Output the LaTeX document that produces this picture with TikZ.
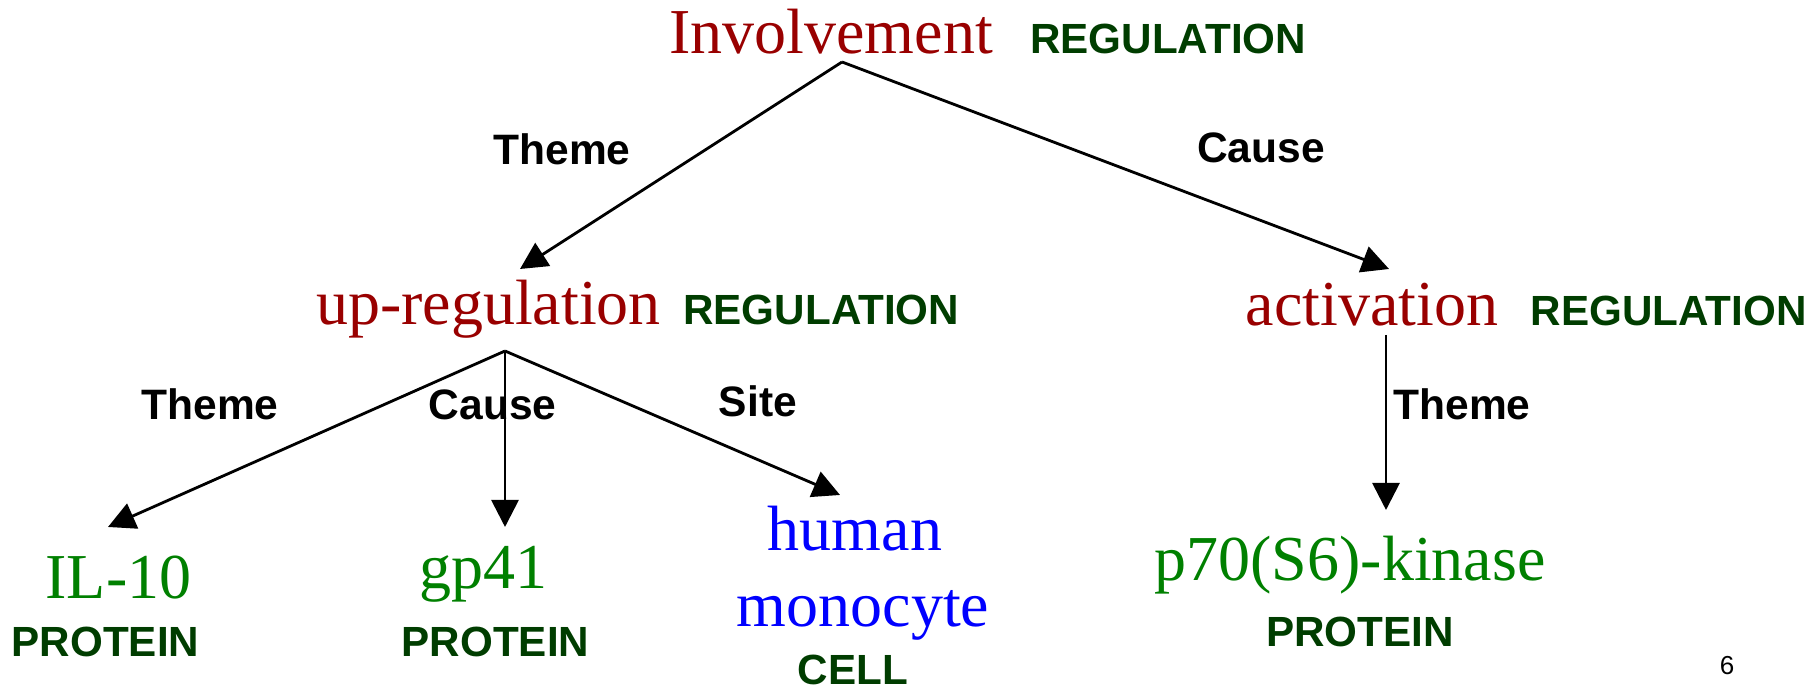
\documentclass[tikz,border=0pt]{standalone}
\definecolor{evtred}{RGB}{153, 0, 0}
\definecolor{protgreen}{RGB}{0, 128, 0}
\definecolor{typegreen}{RGB}{0, 61, 0}
\definecolor{cellblue}{RGB}{0, 0, 255}
\usepackage{fontspec}
\setmainfont{Liberation Serif}
\newfontfamily\labelfont{Liberation Sans}
\usepackage{tikz}
\usetikzlibrary{
    arrows.meta,
    positioning,
    calc
}

\begin{document}
\begin{tikzpicture}[x=0.01cm, y=-0.01cm,
            evt/.style={evtred, inner sep=0pt, anchor=base, font=\fontsize{18.2}{21.8}\selectfont},
            ent/.style={protgreen, inner sep=0pt, anchor=base, font=\fontsize{18.2}{21.8}\selectfont},
            loc/.style={cellblue, inner sep=0pt, anchor=base, font=\fontsize{18.2}{21.8}\selectfont},
            etype/.style={typegreen, inner sep=0pt, anchor=base, font=\labelfont\bfseries\fontsize{12}{14}\selectfont},
            role/.style={black, inner sep=0pt, anchor=base, font=\labelfont\bfseries\fontsize{12.1}{14}\selectfont},
            arg/.style={-{Triangle[length=0.27cm, width=0.27cm]}, line width=0.8pt}]

            \useasboundingbox (0,0) rectangle (1818,689);

            % Events
            \node[evt] (inv) at (831,54) {Involvement};
            \node[etype, base right=0.36cm of inv] (invtype) {REGULATION};
            \node[evt] (upreg) at (488.5,325) {up-regulation};
            \node[etype, base right=0.21cm of upreg] (upregtype) {REGULATION};
            \node[evt] (act) at (1372,326) {activation};
            \node[etype, base right=0.31cm of act] (acttype) {REGULATION};

            % Entities
            \node[ent] (il10) at (118.5,599) {IL-10};
            \node[etype] (il10type) at (105.5,657) {PROTEIN};
            \node[ent] (gp41) at (483.5,589) {gp41};
            \node[etype] (gp41type) at (495.5,657) {PROTEIN};
            \node[loc] (hum) at (855,551) {human};
            \node[loc] (mono) at (863,627) {monocyte};
            \node[etype] (monotype) at (853,685) {CELL};
            \node[ent] (p70) at (1350,581) {p70(S6)-kinase};
            \node[etype] (p70type) at (1360,647) {PROTEIN};

            % Arguments
            \draw[arg] ($(inv.base)+(11,8)$) -- ($(upreg.base)+(31.5,-56)$);
            \draw[arg] ($(inv.base)+(11,8)$) -- ($(act.base)+(17,-57)$);
            \draw[arg] ($(upreg.base)+(16.5,26)$) -- ($(il10.base)+(-10.5,-72)$);
            \draw[arg] ($(upreg.base)+(16.5,26)$) -- ($(gp41.base)+(21.5,-62)$);
            \draw[arg] ($(upreg.base)+(16.5,26)$) -- ($(hum.base)+(-15,-56)$);
            \draw[arg] ($(act.base)+(14,9)$) -- ($(p70.base)+(36,-71)$);

            % Roles
            \node[role] (r1) at (562,165) {Theme};
            \node[role] (r2) at (1261,163) {Cause};
            \node[role] (r3) at (210,420) {Theme};
            \node[role] (r4) at (492.5,420) {Cause};
            \node[role] (r5) at (758,417) {Site};
            \node[role] (r6) at (1462,420) {Theme};

            % Page number
            \node[inner sep=0pt, anchor=base, font=\labelfont\fontsize{7.4}{9}\selectfont] (pagenum) at (1727,675) {6};
        \end{tikzpicture}
\end{document}
